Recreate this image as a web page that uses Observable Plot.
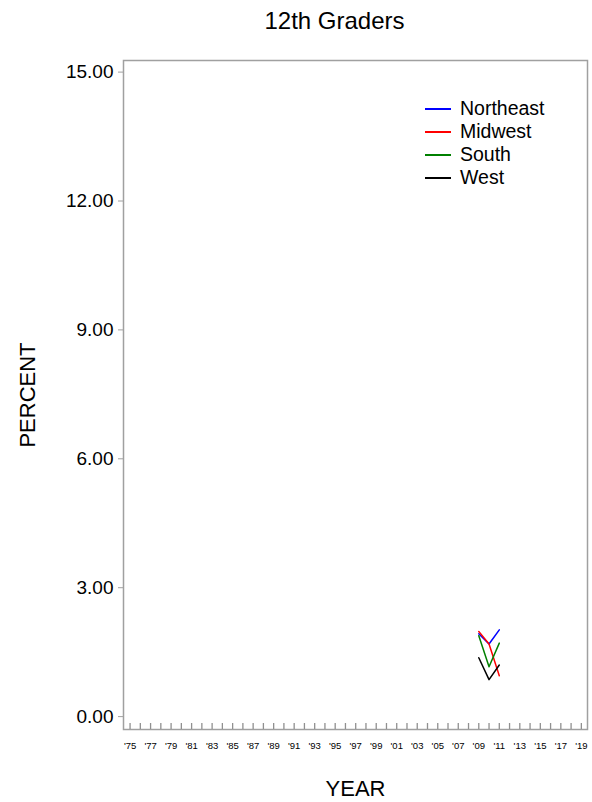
<!DOCTYPE html>
<html>
<head>
<meta charset="utf-8">
<script src="https://cdn.jsdelivr.net/npm/d3@7"></script>
<script src="https://cdn.jsdelivr.net/npm/@observablehq/plot@0.6"></script>
<style>
  html, body { margin: 0; padding: 0; background: #fff; }
  #wrap { position: relative; width: 592px; height: 802px; font-family: "Liberation Sans", Arial, sans-serif; }
  #legend { position: absolute; left: 425px; top: 97px; font-size: 19.5px; color: #000; }
  .row { display: flex; align-items: center; height: 23px; }
  .sw { width: 26px; height: 2px; margin-right: 9px; }
</style>
</head>
<body>
<div id="wrap"><div id="legend"></div></div>
<script>
const years = [2009, 2010, 2011];
const regions = ["Northeast", "Midwest", "South", "West"];
const colors = ["#0000ff", "#ff0000", "#008000", "#000000"];
const northeast = [1.93, 1.69, 2.02];
const midwest = [1.98, 1.69, 0.95];
const south = [1.88, 1.16, 1.71];
const west = [1.37, 0.86, 1.20];
const yTicks = [0, 3, 6, 9, 12, 15];
const allYears = d3.range(1975, 2020);
const labelYears = d3.range(1975, 2020, 2);
const title = "12th Graders";
const xLabel = "YEAR";
const yLabel = "PERCENT";

const series = [northeast, midwest, south, west];
const table = [];
regions.forEach((r, i) => years.forEach((yr, j) => table.push({region: r, year: yr, value: series[i][j]})));

const chart = Plot.plot({
  width: 592,
  height: 802,
  marginTop: 60,
  marginLeft: 123,
  marginRight: 5,
  marginBottom: 73,
  style: {fontFamily: '"Liberation Sans", Arial, sans-serif', background: "#fff", color: "#000"},
  x: {domain: [1974.36, 2019.6], axis: null},
  y: {domain: [-0.3, 15.27], axis: null},
  color: {domain: regions, range: colors},
  marks: [
    Plot.frame({stroke: "#a0a0a0", strokeWidth: 1.5}),
    Plot.axisY({ticks: yTicks, tickSize: 5, text: null, stroke: "#a0a0a0", label: null}),
    Plot.axisY({ticks: yTicks, tickSize: 0, tickPadding: 10, tickFormat: d => d.toFixed(2), fontSize: 19, fill: "#000", label: null}),
    Plot.axisX({ticks: allYears, tickSize: 6, text: null, dy: -6, stroke: "#909090", strokeWidth: 1.3, label: null}),
    Plot.axisX({ticks: labelYears, tickSize: 0, tickPadding: 13, tickFormat: d => "'" + String(d).slice(2), fontSize: 9.5, fill: "#000", label: null}),
    Plot.line(table, {x: "year", y: "value", z: "region", stroke: "region", strokeWidth: 1.5}),
    Plot.text([title], {text: d => d, frameAnchor: "top", dx: -21, dy: -39, fontSize: 24, lineAnchor: "middle", fill: "#000"}),
    Plot.text([yLabel], {text: d => d, frameAnchor: "left", dx: -96, rotate: -90, fontSize: 22, textAnchor: "middle", lineAnchor: "middle", fill: "#000"}),
    Plot.text([xLabel], {text: d => d, frameAnchor: "bottom", dy: 59, fontSize: 22, lineAnchor: "middle", fill: "#000"})
  ]
});
const wrap = document.getElementById("wrap");
wrap.insertBefore(chart, wrap.firstChild);

const legend = document.getElementById("legend");
regions.forEach((r, i) => {
  const row = document.createElement("div");
  row.className = "row";
  const sw = document.createElement("div");
  sw.className = "sw";
  sw.style.background = colors[i];
  const t = document.createElement("span");
  t.textContent = r;
  row.appendChild(sw);
  row.appendChild(t);
  legend.appendChild(row);
});
</script>
</body>
</html>
